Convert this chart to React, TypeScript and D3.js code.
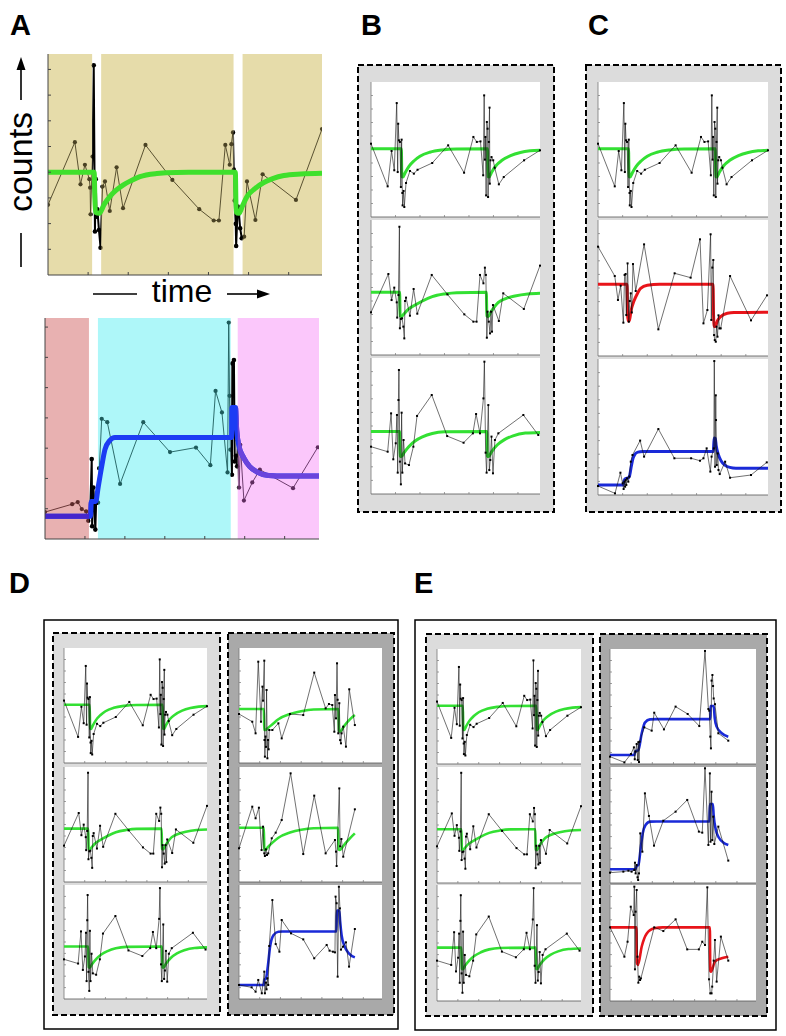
import React from 'react';
import * as d3 from 'd3';

type Pt = [number, number];

// ---------------- DATA ----------------
// Panel A (top) : time units 0..6.83, counts 0..8.6
const aTopSeries: Pt[] = [[0,2.73],[0.67,5.17],[0.81,3.53],[0.92,4.29],[1.03,3.73],[1.05,3.4],[1.06,2.36],[1.11,4.61],[1.14,8.16],[1.17,1.69],[1.19,3.73],[1.21,2.27],[1.23,2.56],[1.27,1.75],[1.31,1.06],[1.36,3.44],[1.42,3.64],[1.54,2.49],[1.71,4.19],[1.87,2.6],[2.43,5.06],[3.1,3.7],[3.77,2.56],[4.13,2.12],[4.26,2.12],[4.42,5.06],[4.53,4.29],[4.57,5.09],[4.61,5.55],[4.63,4.1],[4.65,2.9],[4.68,1.99],[4.69,1.13],[4.73,2.66],[4.76,2.4],[4.79,1.82],[4.83,1.43],[4.89,1.49],[4.96,3.64],[5.17,2.14],[5.35,3.92],[6.18,2.92],[6.83,5.68]];
const aTopFit: Pt[] = [[0,4.0],[1.15,4.0],[1.18,2.45],[1.28,2.4],[1.4,2.75],[1.54,3.05],[1.7,3.3],[1.87,3.5],[2.08,3.68],[2.29,3.83],[2.71,3.95],[3.2,3.99],[4.67,4.0],[4.69,2.45],[4.76,2.4],[4.85,2.7],[4.96,3.05],[5.15,3.35],[5.38,3.6],[5.6,3.75],[5.88,3.87],[6.3,3.93],[6.83,3.96]];
const aTopBands: Pt[] = [[0,1.1],[1.325,4.625],[4.85,6.83]];
const aTopYTicks = [1,2,3,4,5,6,7,8];

// Panel A (bottom) : time 0..6.86, counts 0..7.3
const aBotSeries: Pt[] = [[0,0.89],[0.68,1.15],[0.82,1.22],[0.92,0.99],[1.03,0.91],[1.08,0.6],[1.13,0.84],[1.17,2.64],[1.18,0.42],[1.21,1.7],[1.23,1.3],[1.26,0.31],[1.28,1.19],[1.33,1.2],[1.36,2.34],[1.42,3.97],[1.56,3.86],[1.88,1.82],[2.46,3.86],[3.13,2.87],[3.78,3.02],[4.14,2.44],[4.27,4.89],[4.43,4.18],[4.57,2.2],[4.6,7.15],[4.62,4.73],[4.64,2.95],[4.68,2.12],[4.69,5.8],[4.73,5.91],[4.75,2.56],[4.78,2.75],[4.81,2.4],[4.83,3.25],[4.86,1.7],[4.89,3.11],[4.98,1.27],[5.19,1.87],[5.38,2.29],[6.21,1.68],[6.83,3.03]];
const aBotFit: Pt[] = [[0,0.75],[1.14,0.75],[1.16,1.24],[1.27,1.24],[1.33,1.7],[1.42,2.4],[1.5,2.95],[1.62,3.25],[1.75,3.35],[4.67,3.35],[4.68,4.34],[4.77,4.34],[4.8,3.6],[4.85,3.1],[4.98,2.67],[5.12,2.4],[5.3,2.22],[5.6,2.1],[6.0,2.08],[6.86,2.08]];
const aBotBands: Pt[] = [[0,1.1],[1.325,4.65],[4.825,6.86]];
const aBotYTicks = [1,2,3,4,5,6,7];

const xTicks = [1,2,3,4,5,6];
const miniYTicks = [1,2,3,4,5,6,7,8,9];

// Small panels: time 0..6.9, counts 0..10
const seriesB1: Pt[] = [[0,5.43],[0.68,2.27],[0.84,4.89],[0.95,3.46],[1.05,8.44],[1.09,3.33],[1.11,6.91],[1.14,5.68],[1.18,5.56],[1.22,2.22],[1.25,5.73],[1.28,1.78],[1.29,0.86],[1.33,1.93],[1.36,0.74],[1.43,2.52],[1.59,3.41],[1.75,3.21],[1.9,3.5],[2.5,4.0],[3.15,5.31],[3.8,3.28],[4.18,5.93],[4.32,5.56],[4.47,5.6],[4.58,3.09],[4.62,9.01],[4.65,4.25],[4.67,5.93],[4.7,1.6],[4.73,7.04],[4.76,6.54],[4.78,1.48],[4.81,5.56],[4.84,8.1],[4.85,2.47],[4.88,4.2],[4.92,4.44],[4.99,4.2],[5.05,3.65],[5.22,2.42],[5.42,2.96],[6.25,4.2],[6.9,4.94]];
const fitB1: Pt[] = [[0,5.06],[1.24,5.06],[1.26,3.0],[1.3,2.96],[1.4,3.3],[1.55,3.75],[1.75,4.15],[2.0,4.5],[2.4,4.8],[2.9,4.97],[3.5,5.04],[4.76,5.06],[4.78,3.0],[4.82,2.96],[4.92,3.3],[5.1,3.8],[5.35,4.2],[5.7,4.55],[6.1,4.78],[6.5,4.9],[6.9,4.95]];

const seriesB2: Pt[] = [[0,3.16],[0.71,6.0],[0.84,4.07],[0.95,4.99],[1.05,3.9],[1.07,2.77],[1.12,4.44],[1.16,9.5],[1.18,1.98],[1.22,2.67],[1.27,2.72],[1.32,2.1],[1.36,1.23],[1.39,4.0],[1.43,4.25],[1.59,2.91],[1.74,4.89],[1.89,3.06],[2.48,5.93],[3.12,4.49],[3.81,3.01],[4.18,2.47],[4.31,2.47],[4.45,5.93],[4.59,5.31],[4.65,6.47],[4.69,5.93],[4.73,1.28],[4.76,3.21],[4.81,2.47],[4.86,1.6],[4.9,3.21],[4.94,1.73],[4.98,3.7],[5.22,2.52],[5.4,4.57],[6.24,3.41],[6.9,6.62]];
const fitB2: Pt[] = [[0,4.64],[1.17,4.64],[1.19,2.9],[1.24,2.84],[1.35,3.05],[1.5,3.35],[1.8,3.7],[2.1,4.0],[2.5,4.32],[3.0,4.52],[3.5,4.62],[4.71,4.64],[4.73,2.9],[4.78,2.84],[4.9,3.2],[5.2,3.9],[5.5,4.18],[5.88,4.37],[6.4,4.52],[6.9,4.57]];

const seriesB3: Pt[] = [[0,3.48],[0.68,3.11],[0.82,5.93],[0.91,2.55],[1.01,3.73],[1.06,5.81],[1.09,1.57],[1.12,6.91],[1.14,9.12],[1.18,2.38],[1.22,0.71],[1.25,5.98],[1.28,1.57],[1.33,3.97],[1.39,2.25],[1.55,2.13],[1.73,3.48],[1.88,5.74],[2.48,7.28],[3.11,4.26],[3.78,3.77],[4.16,4.46],[4.29,5.88],[4.45,4.46],[4.59,7.03],[4.63,9.73],[4.68,3.04],[4.72,1.57],[4.79,6.54],[4.83,1.76],[4.87,2.5],[4.92,4.22],[4.98,1.52],[5.06,3.97],[5.2,4.46],[6.22,5.81],[6.83,4.34]];
const fitB3: Pt[] = [[0,4.6],[1.17,4.6],[1.19,2.8],[1.24,2.75],[1.35,3.05],[1.55,3.5],[1.8,3.9],[2.1,4.2],[2.5,4.45],[3.0,4.57],[4.73,4.6],[4.75,2.8],[4.8,2.75],[4.92,3.1],[5.15,3.6],[5.45,4.0],[5.8,4.28],[6.3,4.48],[6.9,4.53]];

const seriesC2: Pt[] = [[0,8.04],[0.68,5.88],[0.81,4.12],[0.92,5.17],[1.03,2.45],[1.08,5.96],[1.12,6.03],[1.15,3.01],[1.2,6.81],[1.25,2.52],[1.29,4.04],[1.33,4.61],[1.37,3.2],[1.42,6.76],[1.53,4.78],[1.87,8.21],[2.45,1.96],[3.11,6.08],[3.76,5.76],[4.14,8.58],[4.28,2.4],[4.44,3.38],[4.57,8.95],[4.6,2.65],[4.64,6.5],[4.68,7.06],[4.71,1.54],[4.74,1.17],[4.78,1.05],[4.81,2.16],[4.85,1.42],[4.89,2.99],[4.93,2.03],[4.98,2.03],[5.36,5.88],[6.21,2.62],[6.86,4.46]];
const fitC2: Pt[] = [[0,5.27],[1.18,5.27],[1.2,3.0],[1.23,2.57],[1.27,2.6],[1.35,3.4],[1.46,4.04],[1.6,4.6],[1.73,4.98],[2.0,5.2],[2.5,5.27],[4.67,5.27],[4.69,3.0],[4.72,2.16],[4.77,2.2],[4.85,2.6],[4.98,2.9],[5.25,3.14],[5.52,3.2],[6.9,3.21]];

const seriesC3: Pt[] = [[0,0.66],[0.69,0.12],[0.91,1.64],[1.0,0.86],[1.04,0.44],[1.07,0.98],[1.1,0.61],[1.12,1.1],[1.15,0.74],[1.18,1.23],[1.23,0.98],[1.27,1.35],[1.33,2.45],[1.4,2.94],[1.71,4.0],[1.87,2.82],[2.45,4.85],[3.1,2.7],[3.78,2.7],[4.14,2.52],[4.28,2.7],[4.41,3.43],[4.56,1.72],[4.61,2.82],[4.7,3.43],[4.72,9.85],[4.75,2.08],[4.78,7.33],[4.79,5.51],[4.82,2.2],[4.86,3.06],[4.89,1.84],[4.94,1.54],[5.16,2.45],[5.36,1.27],[6.21,1.47],[6.85,2.4]];
const fitC3: Pt[] = [[0,0.74],[1.02,0.74],[1.06,1.05],[1.12,1.2],[1.22,1.25],[1.28,1.4],[1.35,2.1],[1.42,2.7],[1.5,3.0],[1.62,3.15],[1.8,3.19],[4.68,3.19],[4.7,3.8],[4.72,4.2],[4.76,4.17],[4.8,3.6],[4.88,3.0],[5.0,2.5],[5.15,2.2],[5.35,2.03],[5.6,1.97],[6.9,1.96]];

const seriesDR1: Pt[] = [[0,4.26],[0.64,3.59],[0.8,2.58],[0.93,8.81],[1.06,3.59],[1.13,6.64],[1.16,5.42],[1.22,8.9],[1.23,2.0],[1.25,0.55],[1.28,2.3],[1.3,1.4],[1.33,6.35],[1.37,0.41],[1.4,2.0],[1.43,1.19],[1.46,2.87],[1.61,2.87],[1.9,3.45],[2.06,2.14],[2.46,4.26],[3.1,4.17],[3.63,7.86],[4.18,4.75],[4.34,5.13],[4.5,5.04],[4.6,2.72],[4.63,5.91],[4.68,3.88],[4.73,8.67],[4.76,5.5],[4.79,2.58],[4.84,5.2],[4.88,1.99],[4.92,1.71],[4.95,2.58],[5.03,3.16],[5.16,1.42],[5.32,6.41],[5.59,3.3]];
const fitDR1: Pt[] = [[0,4.7],[1.2,4.7],[1.22,2.9],[1.27,2.87],[1.4,3.05],[1.6,3.35],[1.9,3.8],[2.46,4.26],[3.0,4.5],[3.6,4.65],[4.8,4.7],[4.82,2.8],[4.88,2.72],[5.0,3.0],[5.11,3.3],[5.35,3.8],[5.59,4.17]];

const seriesDR2: Pt[] = [[0,2.93],[0.64,6.55],[0.8,5.54],[0.96,6.46],[1.09,2.78],[1.16,4.81],[1.22,2.49],[1.25,2.26],[1.3,2.84],[1.35,2.35],[1.41,2.49],[1.58,3.8],[1.77,4.29],[2.06,5.39],[2.49,9.45],[3.1,2.43],[3.63,7.51],[4.18,2.49],[4.63,3.65],[4.68,2.64],[4.71,1.39],[4.84,8.14],[4.88,3.1],[4.94,3.74],[5.03,2.2],[5.59,6.32]];
const fitDR2: Pt[] = [[0,4.72],[1.2,4.72],[1.22,2.8],[1.27,2.78],[1.4,3.05],[1.6,3.4],[1.9,3.85],[2.46,4.3],[3.0,4.55],[3.6,4.68],[4.78,4.72],[4.8,2.85],[4.86,2.78],[5.0,3.05],[5.15,3.4],[5.35,3.8],[5.59,4.23]];

const seriesDR3: Pt[] = [[0,1.23],[0.61,1.02],[0.8,0.64],[0.93,1.67],[1.1,0.5],[1.22,2.4],[1.25,0.5],[1.3,1.44],[1.33,0.85],[1.37,1.82],[1.41,1.23],[1.46,4.65],[1.61,8.68],[1.77,4.82],[1.95,4.15],[2.06,6.93],[2.51,5.76],[3.1,5.23],[3.63,3.57],[4.23,4.74],[4.37,4.24],[4.53,4.15],[4.63,4.09],[4.66,8.98],[4.71,8.4],[4.76,1.96],[4.82,9.85],[4.87,7.95],[4.92,4.33],[5.02,4.59],[5.16,4.97],[5.31,2.84],[5.59,6.14]];
const fitDR3: Pt[] = [[0,1.23],[1.2,1.23],[1.23,1.7],[1.3,1.8],[1.4,3.0],[1.5,4.6],[1.66,5.6],[1.9,5.9],[2.1,5.92],[4.7,5.92],[4.72,7.75],[4.84,7.75],[4.88,6.8],[4.95,5.6],[5.1,4.6],[5.3,4.0],[5.59,3.65]];

const seriesER1: Pt[] = [[0,0.64],[0.68,0.14],[0.99,0.87],[1.13,1.45],[1.17,0.41],[1.21,1.07],[1.26,1.74],[1.31,0.35],[1.34,1.9],[1.37,0.17],[1.4,1.94],[1.62,3.19],[1.97,2.9],[2.09,4.46],[2.55,3.01],[3.1,4.99],[3.67,4.35],[4.22,3.3],[4.49,9.83],[4.65,4.78],[4.69,4.64],[4.74,2.38],[4.77,1.36],[4.8,7.25],[4.84,7.74],[4.87,6.78],[4.9,5.7],[4.96,5.2],[5.12,2.67],[5.59,2.03]];
const fitER1: Pt[] = [[0,0.78],[1.15,0.78],[1.2,1.1],[1.34,1.2],[1.5,2.67],[1.65,3.6],[1.89,3.88],[2.2,3.9],[4.74,3.9],[4.75,5.04],[4.9,5.04],[4.95,4.0],[5.04,3.25],[5.28,2.67],[5.59,2.38]];

const seriesER2: Pt[] = [[0,0.89],[0.63,0.98],[0.87,1.06],[1.02,0.98],[1.15,1.12],[1.18,1.75],[1.21,0.83],[1.26,1.55],[1.3,0.49],[1.33,0.26],[1.37,0.83],[1.43,4.28],[1.53,2.7],[1.65,7.73],[1.84,5.78],[2.08,3.22],[2.52,5.37],[3.1,6.15],[3.65,7.16],[4.2,4.43],[4.36,4.34],[4.49,9.89],[4.65,3.28],[4.72,9.45],[4.75,3.56],[4.8,7.87],[4.83,3.7],[4.88,5.72],[4.93,3.36],[5.12,4.86],[5.59,1.93]];
const fitER2: Pt[] = [[0,1.18],[1.2,1.18],[1.25,1.4],[1.35,1.6],[1.45,3.0],[1.55,4.3],[1.68,5.0],[1.9,5.29],[2.2,5.3],[4.7,5.3],[4.72,6.81],[4.86,6.81],[4.9,5.8],[5.0,4.6],[5.15,3.9],[5.35,3.5],[5.59,3.28]];

const seriesER3: Pt[] = [[0,6.35],[0.68,3.82],[0.83,5.11],[0.98,8.13],[1.12,7.41],[1.15,9.86],[1.18,2.73],[1.21,7.7],[1.26,9.57],[1.3,3.82],[1.34,1.58],[1.38,2.1],[1.42,1.81],[1.46,1.95],[2.09,6.35],[2.52,6.03],[3.1,7.04],[3.65,4.45],[4.2,4.45],[4.36,5.11],[4.49,4.83],[4.6,9.8],[4.68,1.87],[4.74,0.66],[4.8,0.66],[4.83,1.24],[4.9,3.48],[4.96,5.26],[5.04,1.67],[5.24,5.55],[5.59,3.48]];
const fitER3: Pt[] = [[0,6.35],[1.25,6.35],[1.27,3.3],[1.32,3.1],[1.5,4.7],[1.73,5.8],[2.09,6.27],[2.5,6.35],[4.72,6.35],[4.74,2.6],[4.78,2.53],[4.96,3.4],[5.28,3.68],[5.59,3.82]];

// ---------------- STYLE ----------------
const FONT = "'Liberation Sans', Arial, Helvetica, sans-serif";
const GREEN = '#33e033';
const RED = '#e8141a';
const BLUE = '#1a2ad8';
const LIGHT_BOX = '#dcdcdc';
const DARK_BOX = '#a9a9a9';

type BigProps = {
  id: string; x0: number; y0: number; w: number; h: number;
  xMax: number; yMax: number; series: Pt[]; fit: Pt[]; bands: Pt[];
  fills: string[]; inks: string[]; fitMain: string; fitInks: string[]; yTicks: number[];
};

function BigPanel(p: BigProps) {
  const xs = d3.scaleLinear().domain([0, p.xMax]).range([p.x0, p.x0 + p.w]);
  const ys = d3.scaleLinear().domain([0, p.yMax]).range([p.y0 + p.h, p.y0]);
  const line = d3.line<Pt>().x(d => xs(d[0])).y(d => ys(d[1]));
  const fitLine = d3.line<Pt>().x(d => xs(d[0])).y(d => ys(d[1])).curve(d3.curveMonotoneX);
  const gaps: Pt[] = [];
  for (let i = 0; i < p.bands.length - 1; i++) gaps.push([p.bands[i][1], p.bands[i + 1][0]]);
  const clipRect = (b: Pt) => (
    <rect x={xs(b[0])} y={p.y0 - 10} width={xs(b[1]) - xs(b[0])} height={p.h + 20} />
  );
  const dl = line(p.series) || '';
  const fl = fitLine(p.fit) || '';
  return (
    <g>
      <defs>
        {p.bands.map((b, i) => <clipPath key={'b' + i} id={`${p.id}-b${i}`}>{clipRect(b)}</clipPath>)}
        {gaps.map((b, i) => <clipPath key={'g' + i} id={`${p.id}-g${i}`}>{clipRect(b)}</clipPath>)}
      </defs>
      {p.bands.map((b, i) => (
        <rect key={i} x={xs(b[0])} y={p.y0} width={xs(b[1]) - xs(b[0])} height={p.h} fill={p.fills[i]} />
      ))}
      {p.bands.map((b, i) => (
        <g key={i} clipPath={`url(#${p.id}-b${i})`}>
          <path d={dl} fill="none" stroke={p.inks[i]} strokeWidth={0.9} />
          {p.series.map((d, j) => <circle key={j} cx={xs(d[0])} cy={ys(d[1])} r={2.1} fill={p.inks[i]} />)}
        </g>
      ))}
      {gaps.map((b, i) => (
        <g key={i} clipPath={`url(#${p.id}-g${i})`}>
          <path d={dl} fill="none" stroke="#000" strokeWidth={2} />
          {p.series.map((d, j) => <circle key={j} cx={xs(d[0])} cy={ys(d[1])} r={2.3} fill="#000" />)}
        </g>
      ))}
      <path d={fl} fill="none" stroke={p.fitMain} strokeWidth={5} strokeLinejoin="round" />
      {p.bands.map((b, i) => p.fitInks[i] !== p.fitMain ? (
        <g key={i} clipPath={`url(#${p.id}-b${i})`}>
          <path d={fl} fill="none" stroke={p.fitInks[i]} strokeWidth={5} strokeLinejoin="round" />
        </g>
      ) : null)}
      <line x1={p.x0} x2={p.x0} y1={p.y0} y2={p.y0 + p.h} stroke="#444" strokeWidth={1} />
      <line x1={p.x0} x2={p.x0 + p.w} y1={p.y0 + p.h} y2={p.y0 + p.h} stroke="#444" strokeWidth={1} />
      {p.yTicks.map(v => <line key={v} x1={p.x0} x2={p.x0 + 3} y1={ys(v)} y2={ys(v)} stroke="#444" />)}
      {xTicks.map(t => <line key={t} x1={xs(t)} x2={xs(t)} y1={p.y0 + p.h} y2={p.y0 + p.h - 3} stroke="#444" />)}
    </g>
  );
}

type MiniProps = { x0: number; y0: number; w: number; h: number; series: Pt[]; fit: Pt[]; color: string; lw?: number };

function MiniPlot({ x0, y0, w, h, series, fit, color, lw = 3 }: MiniProps) {
  const xs = d3.scaleLinear().domain([0, 6.9]).range([x0, x0 + w]);
  const ys = d3.scaleLinear().domain([0, 10]).range([y0 + h, y0]);
  const line = d3.line<Pt>().x(d => xs(d[0])).y(d => ys(d[1]));
  const fitLine = d3.line<Pt>().x(d => xs(d[0])).y(d => ys(d[1])).curve(d3.curveMonotoneX);
  return (
    <g>
      <rect x={x0} y={y0} width={w} height={h} fill="#fff" />
      <line x1={x0} x2={x0} y1={y0} y2={y0 + h} stroke="#777" strokeWidth={0.8} />
      <line x1={x0} x2={x0 + w} y1={y0 + h} y2={y0 + h} stroke="#555" strokeWidth={0.8} />
      {miniYTicks.map(v => <line key={v} x1={x0} x2={x0 + 2} y1={ys(v)} y2={ys(v)} stroke="#777" strokeWidth={0.7} />)}
      {xTicks.map(t => <line key={t} x1={xs(t)} x2={xs(t)} y1={y0 + h} y2={y0 + h - 2} stroke="#777" strokeWidth={0.7} />)}
      <path d={fitLine(fit) || ''} fill="none" stroke={color} strokeWidth={lw} strokeLinejoin="round" />
      <path d={line(series) || ''} fill="none" stroke="#111" strokeWidth={0.6} />
      {series.map((d, j) => <rect key={j} x={xs(d[0]) - 1} y={ys(d[1]) - 1} width={2} height={2} fill="#000" />)}
    </g>
  );
}

function Arrow({ x1, y1, x2, y2 }: { x1: number; y1: number; x2: number; y2: number }) {
  const ang = Math.atan2(y2 - y1, x2 - x1);
  const L = 13, W = 4.5;
  const bx = x2 - L * Math.cos(ang), by = y2 - L * Math.sin(ang);
  const px = -Math.sin(ang) * W, py = Math.cos(ang) * W;
  return (
    <g>
      <line x1={x1} y1={y1} x2={bx} y2={by} stroke="#000" strokeWidth={1.6} />
      <path d={`M${x2},${y2}L${bx + px},${by + py}L${bx - px},${by - py}Z`} fill="#000" />
    </g>
  );
}

function DashedBox({ x, y, w, h, fill }: { x: number; y: number; w: number; h: number; fill: string }) {
  return <rect x={x} y={y} width={w} height={h} fill={fill} stroke="#000" strokeWidth={2} strokeDasharray="6,3" />;
}

const greenSet: [Pt[], Pt[]][] = [[seriesB1, fitB1], [seriesB2, fitB2], [seriesB3, fitB3]];

export default function App() {
  const label = (t: string, x: number, y: number) => (
    <text x={x} y={y} fontFamily={FONT} fontWeight="bold" fontSize={29}>{t}</text>
  );
  const bRows: [number, number][] = [[82, 135], [220, 135], [358, 136]];
  const cRows: [number, number][] = [[82, 135], [220, 136], [359, 136]];
  const dRows: [number, number][] = [[648, 115], [767, 115], [885, 114]];
  const eRows: [number, number][] = [[649, 115], [767, 116], [885, 116]];
  return (
    <svg width={786} height={1036} style={{ position: 'absolute', left: 0, top: 0, background: '#fff' }}>
      <rect x={0} y={0} width={786} height={1036} fill="#fff" />
      {label('A', 10, 35)}
      {label('B', 361, 35)}
      {label('C', 588, 35)}
      {label('D', 9, 593)}
      {label('E', 414, 593)}

      {/* Panel A top */}
      <BigPanel id="at" x0={48} y0={54} w={274} h={221} xMax={6.83} yMax={8.6}
        series={aTopSeries} fit={aTopFit} bands={aTopBands}
        fills={['#e6dcaa', '#e6dcaa', '#e6dcaa']} inks={['#4a4224', '#4a4224', '#4a4224']}
        fitMain={'#3fe02c'} fitInks={['#3fe02c', '#3fe02c', '#3fe02c']} yTicks={aTopYTicks} />
      {/* axis labels */}
      <text transform="translate(32,162) rotate(-90)" textAnchor="middle" fontFamily={FONT} fontSize={34}>counts</text>
      <line x1={21} x2={21} y1={233} y2={267} stroke="#000" strokeWidth={1.6} />
      <Arrow x1={21} y1={100} x2={21} y2={57} />
      <text x={182} y={302} textAnchor="middle" fontFamily={FONT} fontSize={32}>time</text>
      <line x1={93} x2={137} y1={294} y2={294} stroke="#000" strokeWidth={1.6} />
      <Arrow x1={227} y1={294} x2={270} y2={294} />

      {/* Panel A bottom */}
      <BigPanel id="ab" x0={45} y0={318} w={274} h={221} xMax={6.86} yMax={7.3}
        series={aBotSeries} fit={aBotFit} bands={aBotBands}
        fills={['#e8b1b1', '#aef7f9', '#fbc7fb']} inks={['#5c2a2a', '#1e5c5c', '#5e2c5e']}
        fitMain={'#1c3cf4'} fitInks={['#4626cc', '#1c3cf4', '#6a44dc']} yTicks={aBotYTicks} />

      {/* Panel B */}
      <DashedBox x={358} y={65} w={196} h={447} fill={LIGHT_BOX} />
      {bRows.map((r, i) => (
        <MiniPlot key={i} x0={371} y0={r[0]} w={169} h={r[1]} series={greenSet[i][0]} fit={greenSet[i][1]} color={GREEN} />
      ))}

      {/* Panel C */}
      <DashedBox x={586} y={65} w={195} h={447} fill={LIGHT_BOX} />
      <MiniPlot x0={598} y0={cRows[0][0]} w={170} h={cRows[0][1]} series={seriesB1} fit={fitB1} color={GREEN} />
      <MiniPlot x0={598} y0={cRows[1][0]} w={170} h={cRows[1][1]} series={seriesC2} fit={fitC2} color={RED} />
      <MiniPlot x0={598} y0={cRows[2][0]} w={170} h={cRows[2][1]} series={seriesC3} fit={fitC3} color={BLUE} />

      {/* Panel D */}
      <rect x={44} y={620} width={354} height={409} fill="#fff" stroke="#000" strokeWidth={1.5} />
      <DashedBox x={53} y={633} w={167} h={382} fill={LIGHT_BOX} />
      <DashedBox x={228} y={633} w={166} h={382} fill={DARK_BOX} />
      {dRows.map((r, i) => (
        <MiniPlot key={'dl' + i} x0={64} y0={r[0]} w={143} h={r[1]} series={greenSet[i][0]} fit={greenSet[i][1]} color={GREEN} lw={2.6} />
      ))}
      <MiniPlot x0={239} y0={dRows[0][0]} w={143} h={dRows[0][1]} series={seriesDR1} fit={fitDR1} color={GREEN} lw={2.6} />
      <MiniPlot x0={239} y0={dRows[1][0]} w={143} h={dRows[1][1]} series={seriesDR2} fit={fitDR2} color={GREEN} lw={2.6} />
      <MiniPlot x0={239} y0={dRows[2][0]} w={143} h={dRows[2][1]} series={seriesDR3} fit={fitDR3} color={BLUE} lw={2.6} />

      {/* Panel E */}
      <rect x={415} y={620} width={361} height={410} fill="#fff" stroke="#000" strokeWidth={1.5} />
      <DashedBox x={426} y={634} w={167} h={382} fill={LIGHT_BOX} />
      <DashedBox x={600} y={634} w={167} h={382} fill={DARK_BOX} />
      {eRows.map((r, i) => (
        <MiniPlot key={'el' + i} x0={437} y0={r[0]} w={144} h={r[1]} series={greenSet[i][0]} fit={greenSet[i][1]} color={GREEN} lw={2.6} />
      ))}
      <MiniPlot x0={610} y0={eRows[0][0]} w={146} h={eRows[0][1]} series={seriesER1} fit={fitER1} color={BLUE} lw={2.6} />
      <MiniPlot x0={610} y0={eRows[1][0]} w={146} h={eRows[1][1]} series={seriesER2} fit={fitER2} color={BLUE} lw={2.6} />
      <MiniPlot x0={610} y0={eRows[2][0]} w={146} h={eRows[2][1]} series={seriesER3} fit={fitER3} color={RED} lw={2.6} />
    </svg>
  );
}
